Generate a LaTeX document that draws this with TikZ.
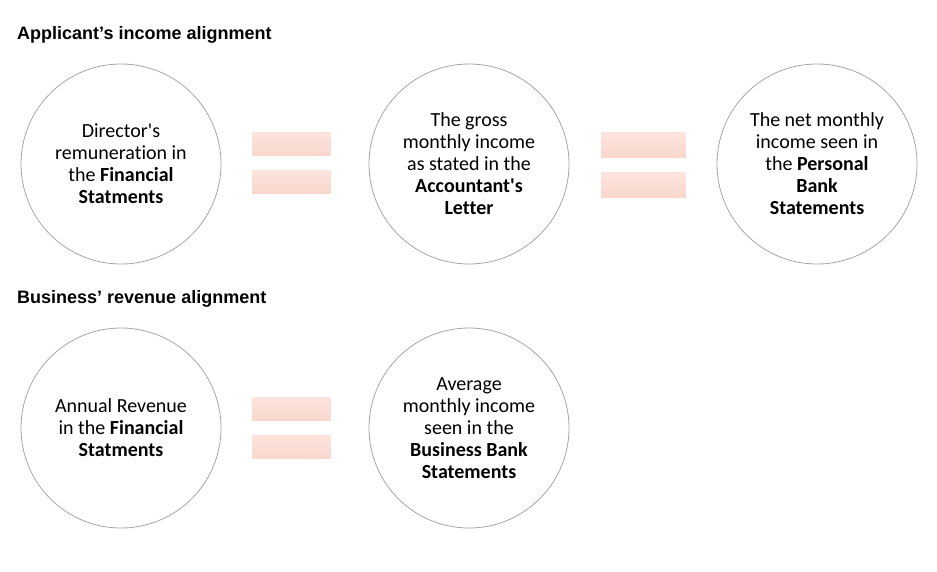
\documentclass[tikz,border=0pt]{standalone}
\usepackage{fontspec}
\setmainfont{Carlito}[Ligatures={NoCommon}]
\newfontfamily\headfont{Liberation Sans}
\definecolor{barTop}{HTML}{FCE5DF}
\definecolor{barBot}{HTML}{F9D6CC}
\definecolor{ringGray}{HTML}{A6A6A6}
\newcommand{\aps}{\textquotesingle}
\begin{document}
\begin{tikzpicture}[x=1pt, y=-1pt,
    ring/.style={circle, draw=ringGray, line width=0.8pt, minimum size=200pt, inner sep=0pt,
                 align=center, font=\fontsize{20}{22}\selectfont},
    heading/.style={anchor=base west, inner sep=0pt, font=\headfont\bfseries\fontsize{18}{21}\selectfont},
    bar/.style={top color=barTop, bottom color=barBot, draw=white, line width=0.6pt}]
    \useasboundingbox (0,0) rectangle (937,571);

    % 标题
    \node[heading] (hApp) at (17,39) {Applicant’s income alignment};
    \node[heading] (hBus) at (17,303) {Business’ revenue alignment};

    % 第一行圆
    \node[ring] (dirRem) at (121,164) {Director\aps s\\remuneration in\\the \textbf{Financial}\\\textbf{Statments}};
    \node[ring] (grossInc) at (469,164) {The gross\\monthly income\\as stated in the\\\textbf{Accountant\aps s}\\\textbf{Letter}};
    \node[ring] (netInc) at (817,164) {The net monthly\\income seen in\\the \textbf{Personal}\\\textbf{Bank}\\\textbf{Statements}};

    % 第二行圆
    \node[ring] (annRev) at (121,428) {Annual Revenue\\in the \textbf{Financial}\\\textbf{Statments}};
    \node[ring] (avgInc) at (469,428) {Average\\monthly income\\seen in the\\\textbf{Business Bank}\\\textbf{Statements}};

    % 等号
    \shade[bar] (251,131) rectangle (331,156);
    \shade[bar] (251,169) rectangle (331,194);
    \shade[bar] (600,131) rectangle (686,158);
    \shade[bar] (600,171) rectangle (686,198);
    \shade[bar] (251,396) rectangle (331,421);
    \shade[bar] (251,434) rectangle (331,459);
\end{tikzpicture}
\end{document}
